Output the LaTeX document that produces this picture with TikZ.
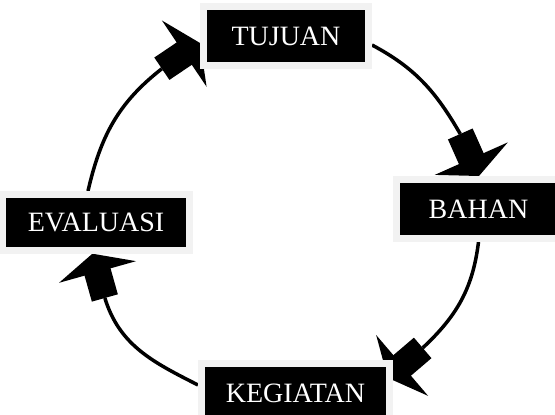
\documentclass[tikz,border=0pt]{standalone}
\usepackage{fontspec}
\setmainfont{Liberation Serif}
\usetikzlibrary{calc,backgrounds}
\definecolor{rim}{RGB}{242,242,242}
\begin{document}
\begin{tikzpicture}[x=1pt,y=1pt,
  lbl/.style={fill=black, draw=rim, line width=7pt, text=white, inner sep=0pt,
              font=\fontsize{28}{30}\selectfont},
  conn/.style={line width=3.5pt, black},
  blockhead/.pic={
    \fill[black] (0,0) -- (-19,40) -- (-19,-40) -- cycle;
    \fill[black] (-18,-13.5) rectangle (-46,13.5);
  }]
\useasboundingbox (0,0) rectangle (555,415);
\clip (0,0) rectangle (555,415);
% boxes
\node[lbl, minimum width=165pt, minimum height=59pt] (tuj) at (286,379) {TUJUAN};
\node[lbl, minimum width=164pt, minimum height=59pt] (bah) at (478.5,206) {BAHAN};
\node[lbl, minimum width=188pt, minimum height=59pt] (keg) at (295.5,22) {KEGIATAN};
\node[lbl, minimum width=187pt, minimum height=56pt] (eva) at (96,192.5) {EVALUASI};
% arrow tips and their backs
\coordinate (a1) at (200,372);
\coordinate (a1b) at ($(a1)+(214:46pt)$);
\coordinate (a2) at (479,239);
\coordinate (a2b) at ($(a2)+(114:46pt)$);
\coordinate (a3) at (387.7,37.2);
\coordinate (a3b) at ($(a3)+(40.5:46pt)$);
\coordinate (a4) at (92.4,161.3);
\coordinate (a4b) at ($(a4)+(-74.3:46pt)$);
\begin{scope}[on background layer]
  \draw[conn] ([xshift=-8pt]eva.north) to[out=77,in=218] (a1b);
  \draw[conn] ([yshift=-9pt]tuj.east) to[out=-28,in=120] (a2b);
  \draw[conn] (bah.south) to[out=-97,in=43] (a3b);
  \draw[conn] ([yshift=8pt]keg.west) to[out=153,in=-73] (a4b);
  \pic[rotate=34] at (a1) {blockhead};
  \pic[rotate=-66] at (a2) {blockhead};
  \pic[rotate=-139.5] at (a3) {blockhead};
  \pic[rotate=105.7] at (a4) {blockhead};
\end{scope}
\end{tikzpicture}
\end{document}
